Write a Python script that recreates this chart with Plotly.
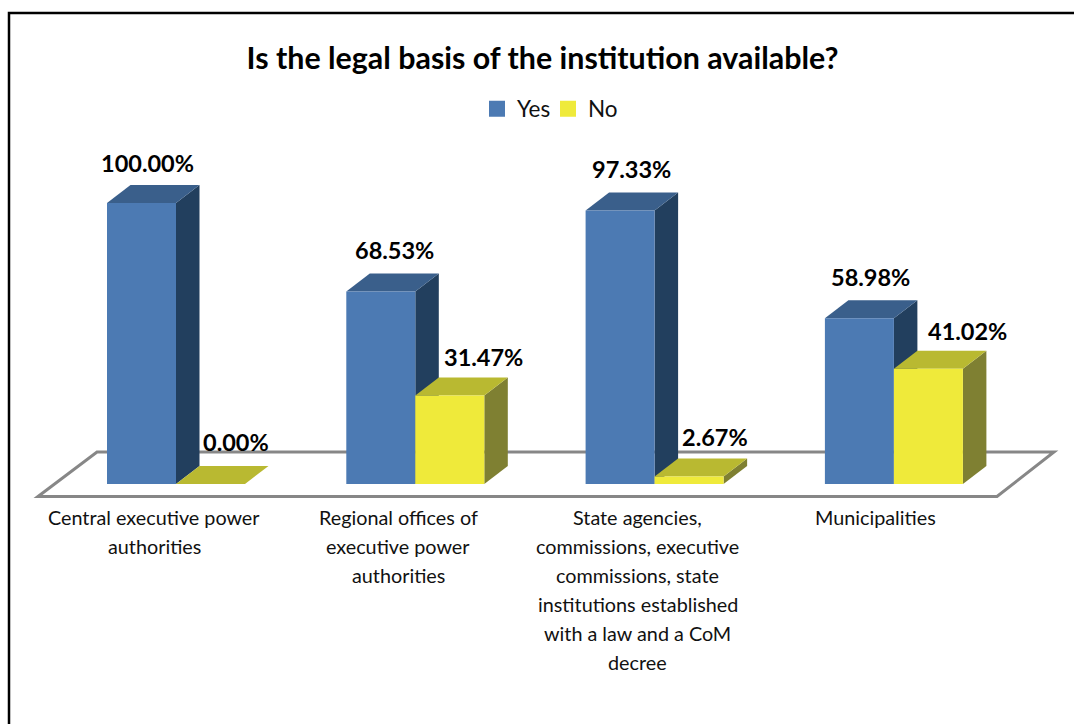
import plotly.graph_objects as go

# --- data ---
categories = [
    ["Central executive power", "authorities"],
    ["Regional offices of", "executive power", "authorities"],
    ["State agencies,", "commissions, executive", "commissions, state",
     "institutions established", "with a law and a CoM", "decree"],
    ["Municipalities"],
]
yes_values = [100.00, 68.53, 97.33, 58.98]
no_values = [0.00, 31.47, 2.67, 41.02]
series_names = ["Yes", "No"]
title_text = "Is the legal basis of the institution available?"

# --- geometry / style ---
W, H = 1074, 724
PX_X0, PX_GROUP = 176.0, 239.3     # pixel of first group centre, pixel per category
PX_Y0, PX_PCT = 484.0, 2.81        # pixel of 0 %, pixel per percent
PLOT_BOTTOM = 498
BAR = 69 / PX_GROUP
DX, DY = 23.5 / PX_GROUP, 18 / PX_PCT
BLUE, BLUE_TOP, BLUE_SIDE = "#4C7AB3", "#3A5F8B", "#223F5E"
YEL, YEL_TOP, YEL_SIDE = "#EFEA3A", "#B9B931", "#7F8032"
FONT = "Lato, 'Open Sans', sans-serif"
TICK_SHIFT = [-22.0, -17.0, -17.0, -18.0]   # px offset of the category labels
LINE_STEP, FIRST_LINE = 29, 517
LABEL_SHIFT_YES = [6, 14, 11, 11]
LABEL_SHIFT_NO = [25, 34, 26, 39]
LABEL_GAP_YES = [6, 7, 8, 7]
LABEL_GAP_NO = [8, 5, 6, 4]


def poly(points, color):
    path = "M" + " L".join(f"{x},{y}" for x, y in points) + " Z"
    return dict(type="path", path=path, xref="x", yref="y", layer="below",
                fillcolor=color, line=dict(width=0))


def box_faces(x0, v, top, side):
    x1 = x0 + BAR
    return [
        poly([(x1, 0), (x1 + DX, DY), (x1 + DX, v + DY), (x1, v)], side),
        poly([(x0, v), (x0 + DX, v + DY), (x1 + DX, v + DY), (x1, v)], top),
    ]


xs = list(range(len(categories)))
to_x = lambda p: (p - PX_X0) / PX_GROUP
to_y = lambda p: (PX_Y0 - p) / PX_PCT
floor = [(38, 496.5), (97, 452), (1054, 452), (997, 496.5)]
shapes = [dict(type="path", xref="x", yref="y", layer="below",
               path="M" + " L".join(f"{to_x(a)},{to_y(b)}" for a, b in floor) + " Z",
               fillcolor="rgba(0,0,0,0)", line=dict(color="#878787", width=3))]
for i in xs:
    shapes += box_faces(i - BAR, yes_values[i], BLUE_TOP, BLUE_SIDE)
    shapes += box_faces(i, no_values[i], YEL_TOP, YEL_SIDE)
# outer frame of the picture
shapes.append(dict(type="rect", xref="paper", yref="paper", layer="above",
                   x0=9 / W, x1=1.02, y0=-0.02 - (H - PLOT_BOTTOM) / PLOT_BOTTOM, y1=1 - 13 / PLOT_BOTTOM,
                   line=dict(color="black", width=2.5), fillcolor="rgba(0,0,0,0)"))

annotations = []
for i in xs:
    for val, off, sh, gap in ((yes_values[i], -BAR / 2, LABEL_SHIFT_YES[i], LABEL_GAP_YES[i]),
                              (no_values[i], BAR / 2, LABEL_SHIFT_NO[i], LABEL_GAP_NO[i])):
        annotations.append(dict(x=i + off, y=val + DY, xref="x", yref="y", text=f"<b>{val:.2f}%</b>",
                                showarrow=False, xshift=sh, yshift=gap, yanchor="bottom",
                                font=dict(family=FONT, size=23.5, color="black")))
    for n, line in enumerate(categories[i]):
        annotations.append(dict(x=i, y=0, xref="x", yref="paper", text=line, showarrow=False,
                                xshift=TICK_SHIFT[i], yshift=PLOT_BOTTOM - FIRST_LINE - n * LINE_STEP,
                                yanchor="middle", xanchor="center",
                                font=dict(family=FONT, size=19.8, color="#111111")))

fig = go.Figure()
fig.add_bar(x=xs, y=yes_values, name=series_names[0], marker=dict(color=BLUE, line=dict(width=0)),
            width=BAR, offset=-BAR, hoverinfo="skip", showlegend=False)
fig.add_bar(x=xs, y=no_values, name=series_names[1], marker=dict(color=YEL, line=dict(width=0)),
            width=BAR, offset=0, hoverinfo="skip", showlegend=False)
# legend entries with the larger square swatches of the reference
for name, color in zip(series_names, (BLUE, YEL)):
    fig.add_scatter(x=[None], y=[None], mode="markers", name=name, hoverinfo="skip",
                    marker=dict(symbol="square", size=16, color=color))

fig.update_layout(
    width=W, height=H, autosize=False,
    margin=dict(l=0, r=0, t=0, b=H - PLOT_BOTTOM, pad=0),
    paper_bgcolor="white", plot_bgcolor="rgba(0,0,0,0)",
    font=dict(family=FONT, color="black"),
    barmode="overlay",
    title=dict(text=f"<b>{title_text}</b>", x=542.5 / W, xanchor="center", y=1 - 58 / H, yanchor="middle",
               font=dict(family=FONT, size=30.4, color="black")),
    legend=dict(orientation="h", x=548 / W, xanchor="center", y=1 - 109 / PLOT_BOTTOM, yanchor="middle",
                font=dict(family=FONT, size=22.5, color="#111111"), bgcolor="rgba(0,0,0,0)",
                entrywidth=26, entrywidthmode="pixels",
                traceorder="normal", itemclick=False, itemdoubleclick=False),
    shapes=shapes, annotations=annotations, showlegend=True,
)
fig.update_xaxes(range=[to_x(0), to_x(W)], showgrid=False, zeroline=False, showline=False,
                 showticklabels=False, ticks="", automargin=False)
fig.update_yaxes(range=[to_y(PLOT_BOTTOM), to_y(0)], showgrid=False, zeroline=False, showline=False,
                 showticklabels=False, automargin=False)
fig.write_html("out.html", post_script="document.body.style.margin='0';",
               config={"displayModeBar": False})
